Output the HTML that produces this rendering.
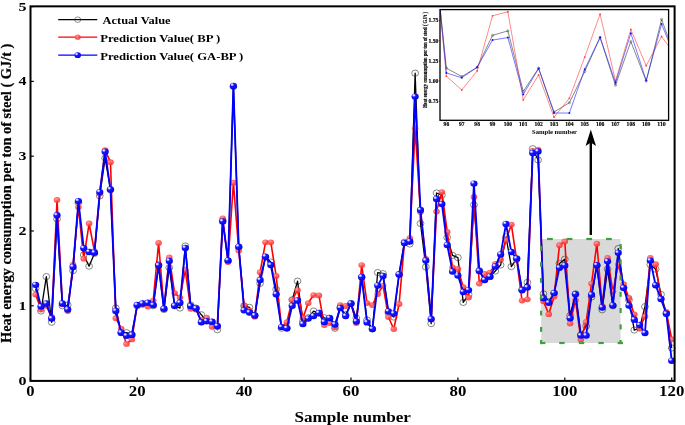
<!DOCTYPE html>
<html><head><meta charset="utf-8"><title>Heat energy consumption prediction</title>
<style>
html,body{margin:0;padding:0;background:#fff;}
svg{display:block;}
text{font-family:"Liberation Serif","DejaVu Serif",serif;font-weight:bold;fill:#000;}
</style></head><body>
<svg width="685" height="425" viewBox="0 0 685 425">
<defs>
<radialGradient id="gb" cx="0.36" cy="0.34" r="0.7" fx="0.30" fy="0.28">
<stop offset="0" stop-color="#ffffff"/><stop offset="0.16" stop-color="#c8c8ff"/><stop offset="0.38" stop-color="#1a1aff"/><stop offset="1" stop-color="#0000f0"/>
</radialGradient>
<radialGradient id="gr" cx="0.4" cy="0.38" r="0.62">
<stop offset="0" stop-color="#ffa0a0" stop-opacity="0.9"/><stop offset="0.55" stop-color="#ff4a4a" stop-opacity="0.85"/><stop offset="1" stop-color="#ff2a2a" stop-opacity="0.85"/>
</radialGradient>
<g id="mb"><ellipse rx="3.6" ry="3.2" fill="url(#gb)"/></g>
<g id="mr"><ellipse rx="3.3" ry="2.9" fill="url(#gr)"/></g>
<g id="mk"><ellipse rx="3.4" ry="3.1" fill="none" stroke="#222" stroke-width="0.55"/></g>
<clipPath id="ci"><rect x="440" y="9.6" width="228.6" height="110.7"/></clipPath>
</defs>
<rect width="685" height="425" fill="#fff"/>

<rect x="541.2" y="239" width="79.4" height="104" fill="#d9d9d9"/>
<polyline points="35.65,288.6 40.99,311.04 46.34,276.63 51.68,322.26 57.02,219.03 62.37,305.8 67.72,305.05 73.06,270.64 78.41,202.58 83.75,254.94 89.09,266.16 94.44,253.44 99.78,195.84 105.13,158.07 110.47,189.86 115.82,308.04 121.16,332.73 126.51,332.73 131.85,334.22 137.2,305.8 142.54,304.3 147.89,303.56 153.23,305.8 158.58,264.66 163.93,309.54 169.27,267.65 174.62,305.8 179.96,308.04 185.31,245.96 190.65,305.05 196,308.04 201.34,314.78 206.69,320.76 212.03,322.26 217.38,329.74 222.72,220.53 228.06,260.92 233.41,86.64 238.75,247.46 244.1,305.8 249.44,307.3 254.79,315.52 260.13,283.36 265.48,257.18 270.82,262.04 276.17,289.34 281.51,328.24 286.86,328.24 292.2,299.82 297.55,281.12 302.89,321.51 308.24,317.77 313.58,311.04 318.93,313.28 324.27,317.77 329.62,318.52 334.96,328.24 340.31,307.3 345.65,314.78 351,303.56 356.34,317.99 361.69,277.38 367.03,320.01 372.38,328.99 377.73,272.59 383.07,273.64 388.42,312.91 393.76,317.02 399.11,274.38 404.45,242.22 409.8,244.02 415.14,73.17 420.49,223.52 425.83,266.98 431.18,323.6 436.52,193 441.87,195.1 447.21,237.43 452.56,255.38 457.9,257.63 463.25,302.43 468.59,294.58 473.94,204.82 479.28,270.64 484.62,279.62 489.97,276.63 495.31,271.02 500.66,265.03 506,236.98 511.35,266.6 516.69,258.68 522.04,290.09 527.38,282.39 532.73,148.72 538.07,159.94 543.42,293.83 548.76,301.69 554.11,293.08 559.45,263.39 564.8,259.2 570.14,315.52 575.49,293.83 580.83,334.6 586.18,326 591.52,296.97 596.87,265.41 602.21,309.76 607.56,269.15 612.9,305.8 618.25,248.58 623.59,287.85 628.94,299.97 634.28,330.04 639.63,328.02 644.97,306.62 650.32,264.59 655.66,269.15 661.01,294.43 666.35,313.28 671.7,347.99" fill="none" stroke="#000" stroke-width="1.3" stroke-linejoin="round"/>
<use href="#mk" x="35.65" y="288.6"/>
<use href="#mk" x="40.99" y="311.04"/>
<use href="#mk" x="46.34" y="276.63"/>
<use href="#mk" x="51.68" y="322.26"/>
<use href="#mk" x="57.02" y="219.03"/>
<use href="#mk" x="62.37" y="305.8"/>
<use href="#mk" x="67.72" y="305.05"/>
<use href="#mk" x="73.06" y="270.64"/>
<use href="#mk" x="78.41" y="202.58"/>
<use href="#mk" x="83.75" y="254.94"/>
<use href="#mk" x="89.09" y="266.16"/>
<use href="#mk" x="94.44" y="253.44"/>
<use href="#mk" x="99.78" y="195.84"/>
<use href="#mk" x="105.13" y="158.07"/>
<use href="#mk" x="110.47" y="189.86"/>
<use href="#mk" x="115.82" y="308.04"/>
<use href="#mk" x="121.16" y="332.73"/>
<use href="#mk" x="126.51" y="332.73"/>
<use href="#mk" x="131.85" y="334.22"/>
<use href="#mk" x="137.2" y="305.8"/>
<use href="#mk" x="142.54" y="304.3"/>
<use href="#mk" x="147.89" y="303.56"/>
<use href="#mk" x="153.23" y="305.8"/>
<use href="#mk" x="158.58" y="264.66"/>
<use href="#mk" x="163.93" y="309.54"/>
<use href="#mk" x="169.27" y="267.65"/>
<use href="#mk" x="174.62" y="305.8"/>
<use href="#mk" x="179.96" y="308.04"/>
<use href="#mk" x="185.31" y="245.96"/>
<use href="#mk" x="190.65" y="305.05"/>
<use href="#mk" x="196" y="308.04"/>
<use href="#mk" x="201.34" y="314.78"/>
<use href="#mk" x="206.69" y="320.76"/>
<use href="#mk" x="212.03" y="322.26"/>
<use href="#mk" x="217.38" y="329.74"/>
<use href="#mk" x="222.72" y="220.53"/>
<use href="#mk" x="228.06" y="260.92"/>
<use href="#mk" x="233.41" y="86.64"/>
<use href="#mk" x="238.75" y="247.46"/>
<use href="#mk" x="244.1" y="305.8"/>
<use href="#mk" x="249.44" y="307.3"/>
<use href="#mk" x="254.79" y="315.52"/>
<use href="#mk" x="260.13" y="283.36"/>
<use href="#mk" x="265.48" y="257.18"/>
<use href="#mk" x="270.82" y="262.04"/>
<use href="#mk" x="276.17" y="289.34"/>
<use href="#mk" x="281.51" y="328.24"/>
<use href="#mk" x="286.86" y="328.24"/>
<use href="#mk" x="292.2" y="299.82"/>
<use href="#mk" x="297.55" y="281.12"/>
<use href="#mk" x="302.89" y="321.51"/>
<use href="#mk" x="308.24" y="317.77"/>
<use href="#mk" x="313.58" y="311.04"/>
<use href="#mk" x="318.93" y="313.28"/>
<use href="#mk" x="324.27" y="317.77"/>
<use href="#mk" x="329.62" y="318.52"/>
<use href="#mk" x="334.96" y="328.24"/>
<use href="#mk" x="340.31" y="307.3"/>
<use href="#mk" x="345.65" y="314.78"/>
<use href="#mk" x="351" y="303.56"/>
<use href="#mk" x="356.34" y="317.99"/>
<use href="#mk" x="361.69" y="277.38"/>
<use href="#mk" x="367.03" y="320.01"/>
<use href="#mk" x="372.38" y="328.99"/>
<use href="#mk" x="377.73" y="272.59"/>
<use href="#mk" x="383.07" y="273.64"/>
<use href="#mk" x="388.42" y="312.91"/>
<use href="#mk" x="393.76" y="317.02"/>
<use href="#mk" x="399.11" y="274.38"/>
<use href="#mk" x="404.45" y="242.22"/>
<use href="#mk" x="409.8" y="244.02"/>
<use href="#mk" x="415.14" y="73.17"/>
<use href="#mk" x="420.49" y="223.52"/>
<use href="#mk" x="425.83" y="266.98"/>
<use href="#mk" x="431.18" y="323.6"/>
<use href="#mk" x="436.52" y="193"/>
<use href="#mk" x="441.87" y="195.1"/>
<use href="#mk" x="447.21" y="237.43"/>
<use href="#mk" x="452.56" y="255.38"/>
<use href="#mk" x="457.9" y="257.63"/>
<use href="#mk" x="463.25" y="302.43"/>
<use href="#mk" x="468.59" y="294.58"/>
<use href="#mk" x="473.94" y="204.82"/>
<use href="#mk" x="479.28" y="270.64"/>
<use href="#mk" x="484.62" y="279.62"/>
<use href="#mk" x="489.97" y="276.63"/>
<use href="#mk" x="495.31" y="271.02"/>
<use href="#mk" x="500.66" y="265.03"/>
<use href="#mk" x="506" y="236.98"/>
<use href="#mk" x="511.35" y="266.6"/>
<use href="#mk" x="516.69" y="258.68"/>
<use href="#mk" x="522.04" y="290.09"/>
<use href="#mk" x="527.38" y="282.39"/>
<use href="#mk" x="532.73" y="148.72"/>
<use href="#mk" x="538.07" y="159.94"/>
<use href="#mk" x="543.42" y="293.83"/>
<use href="#mk" x="548.76" y="301.69"/>
<use href="#mk" x="554.11" y="293.08"/>
<use href="#mk" x="559.45" y="263.39"/>
<use href="#mk" x="564.8" y="259.2"/>
<use href="#mk" x="570.14" y="315.52"/>
<use href="#mk" x="575.49" y="293.83"/>
<use href="#mk" x="580.83" y="334.6"/>
<use href="#mk" x="586.18" y="326"/>
<use href="#mk" x="591.52" y="296.97"/>
<use href="#mk" x="596.87" y="265.41"/>
<use href="#mk" x="602.21" y="309.76"/>
<use href="#mk" x="607.56" y="269.15"/>
<use href="#mk" x="612.9" y="305.8"/>
<use href="#mk" x="618.25" y="248.58"/>
<use href="#mk" x="623.59" y="287.85"/>
<use href="#mk" x="628.94" y="299.97"/>
<use href="#mk" x="634.28" y="330.04"/>
<use href="#mk" x="639.63" y="328.02"/>
<use href="#mk" x="644.97" y="306.62"/>
<use href="#mk" x="650.32" y="264.59"/>
<use href="#mk" x="655.66" y="269.15"/>
<use href="#mk" x="661.01" y="294.43"/>
<use href="#mk" x="666.35" y="313.28"/>
<use href="#mk" x="671.7" y="347.99"/>
<polyline points="35.65,294.58 40.99,309.54 46.34,305.8 51.68,317.02 57.02,199.96 62.37,304.3 67.72,311.04 73.06,264.66 78.41,207.06 83.75,258.68 89.09,223.52 94.44,251.2 99.78,193.6 105.13,150.22 110.47,162.18 115.82,318.22 121.16,328.61 126.51,343.95 131.85,339.46 137.2,305.05 142.54,304.3 147.89,306.55 153.23,300.56 158.58,242.97 163.93,308.04 169.27,257.4 174.62,293.08 179.96,297.57 185.31,269.9 190.65,308.79 196,309.54 201.34,320.76 206.69,317.77 212.03,326.74 217.38,327.12 222.72,218.28 228.06,262.04 233.41,182.75 238.75,250.6 244.1,305.8 249.44,310.66 254.79,316.65 260.13,272.14 265.48,242.37 270.82,242.37 276.17,275.88 281.51,326.74 286.86,322.26 292.2,299.82 297.55,290.09 302.89,317.99 308.24,303.03 313.58,295.03 318.93,295.4 324.27,325.02 329.62,323 334.96,327.42 340.31,305.05 345.65,306.02 351,303.56 356.34,323 361.69,265.03 367.03,303.03 372.38,305.05 377.73,293.98 383.07,285.6 388.42,317.02 393.76,328.99 399.11,304 404.45,242.97 409.8,238.03 415.14,128.37 420.49,212 425.83,258.98 431.18,319.26 436.52,211.4 441.87,192.1 447.21,231.97 452.56,267.43 457.9,269 463.25,287.1 468.59,297.57 473.94,196.97 479.28,283.58 484.62,274.01 489.97,272.59 495.31,263.99 500.66,259.42 506,239.98 511.35,224.57 516.69,260.02 522.04,300.56 527.38,299.37 532.73,150.96 538.07,149.62 543.42,301.31 548.76,314.18 554.11,296.45 559.45,245.21 564.8,241.47 570.14,323.38 575.49,300.19 580.83,339.46 586.18,321.88 591.52,283.58 596.87,243.72 602.21,305.8 607.56,257.93 612.9,291.59 618.25,264.44 623.59,284.11 628.94,298.02 634.28,314.4 639.63,328.02 644.97,316.42 650.32,258 655.66,264.21 661.01,299.07 666.35,312.01 671.7,339.24" fill="none" stroke="#ff0000" stroke-width="1.6" stroke-linejoin="round"/>
<use href="#mr" x="35.65" y="294.58"/>
<use href="#mr" x="40.99" y="309.54"/>
<use href="#mr" x="46.34" y="305.8"/>
<use href="#mr" x="51.68" y="317.02"/>
<use href="#mr" x="57.02" y="199.96"/>
<use href="#mr" x="62.37" y="304.3"/>
<use href="#mr" x="67.72" y="311.04"/>
<use href="#mr" x="73.06" y="264.66"/>
<use href="#mr" x="78.41" y="207.06"/>
<use href="#mr" x="83.75" y="258.68"/>
<use href="#mr" x="89.09" y="223.52"/>
<use href="#mr" x="94.44" y="251.2"/>
<use href="#mr" x="99.78" y="193.6"/>
<use href="#mr" x="105.13" y="150.22"/>
<use href="#mr" x="110.47" y="162.18"/>
<use href="#mr" x="115.82" y="318.22"/>
<use href="#mr" x="121.16" y="328.61"/>
<use href="#mr" x="126.51" y="343.95"/>
<use href="#mr" x="131.85" y="339.46"/>
<use href="#mr" x="137.2" y="305.05"/>
<use href="#mr" x="142.54" y="304.3"/>
<use href="#mr" x="147.89" y="306.55"/>
<use href="#mr" x="153.23" y="300.56"/>
<use href="#mr" x="158.58" y="242.97"/>
<use href="#mr" x="163.93" y="308.04"/>
<use href="#mr" x="169.27" y="257.4"/>
<use href="#mr" x="174.62" y="293.08"/>
<use href="#mr" x="179.96" y="297.57"/>
<use href="#mr" x="185.31" y="269.9"/>
<use href="#mr" x="190.65" y="308.79"/>
<use href="#mr" x="196" y="309.54"/>
<use href="#mr" x="201.34" y="320.76"/>
<use href="#mr" x="206.69" y="317.77"/>
<use href="#mr" x="212.03" y="326.74"/>
<use href="#mr" x="217.38" y="327.12"/>
<use href="#mr" x="222.72" y="218.28"/>
<use href="#mr" x="228.06" y="262.04"/>
<use href="#mr" x="233.41" y="182.75"/>
<use href="#mr" x="238.75" y="250.6"/>
<use href="#mr" x="244.1" y="305.8"/>
<use href="#mr" x="249.44" y="310.66"/>
<use href="#mr" x="254.79" y="316.65"/>
<use href="#mr" x="260.13" y="272.14"/>
<use href="#mr" x="265.48" y="242.37"/>
<use href="#mr" x="270.82" y="242.37"/>
<use href="#mr" x="276.17" y="275.88"/>
<use href="#mr" x="281.51" y="326.74"/>
<use href="#mr" x="286.86" y="322.26"/>
<use href="#mr" x="292.2" y="299.82"/>
<use href="#mr" x="297.55" y="290.09"/>
<use href="#mr" x="302.89" y="317.99"/>
<use href="#mr" x="308.24" y="303.03"/>
<use href="#mr" x="313.58" y="295.03"/>
<use href="#mr" x="318.93" y="295.4"/>
<use href="#mr" x="324.27" y="325.02"/>
<use href="#mr" x="329.62" y="323"/>
<use href="#mr" x="334.96" y="327.42"/>
<use href="#mr" x="340.31" y="305.05"/>
<use href="#mr" x="345.65" y="306.02"/>
<use href="#mr" x="351" y="303.56"/>
<use href="#mr" x="356.34" y="323"/>
<use href="#mr" x="361.69" y="265.03"/>
<use href="#mr" x="367.03" y="303.03"/>
<use href="#mr" x="372.38" y="305.05"/>
<use href="#mr" x="377.73" y="293.98"/>
<use href="#mr" x="383.07" y="285.6"/>
<use href="#mr" x="388.42" y="317.02"/>
<use href="#mr" x="393.76" y="328.99"/>
<use href="#mr" x="399.11" y="304"/>
<use href="#mr" x="404.45" y="242.97"/>
<use href="#mr" x="409.8" y="238.03"/>
<use href="#mr" x="415.14" y="128.37"/>
<use href="#mr" x="420.49" y="212"/>
<use href="#mr" x="425.83" y="258.98"/>
<use href="#mr" x="431.18" y="319.26"/>
<use href="#mr" x="436.52" y="211.4"/>
<use href="#mr" x="441.87" y="192.1"/>
<use href="#mr" x="447.21" y="231.97"/>
<use href="#mr" x="452.56" y="267.43"/>
<use href="#mr" x="457.9" y="269"/>
<use href="#mr" x="463.25" y="287.1"/>
<use href="#mr" x="468.59" y="297.57"/>
<use href="#mr" x="473.94" y="196.97"/>
<use href="#mr" x="479.28" y="283.58"/>
<use href="#mr" x="484.62" y="274.01"/>
<use href="#mr" x="489.97" y="272.59"/>
<use href="#mr" x="495.31" y="263.99"/>
<use href="#mr" x="500.66" y="259.42"/>
<use href="#mr" x="506" y="239.98"/>
<use href="#mr" x="511.35" y="224.57"/>
<use href="#mr" x="516.69" y="260.02"/>
<use href="#mr" x="522.04" y="300.56"/>
<use href="#mr" x="527.38" y="299.37"/>
<use href="#mr" x="532.73" y="150.96"/>
<use href="#mr" x="538.07" y="149.62"/>
<use href="#mr" x="543.42" y="301.31"/>
<use href="#mr" x="548.76" y="314.18"/>
<use href="#mr" x="554.11" y="296.45"/>
<use href="#mr" x="559.45" y="245.21"/>
<use href="#mr" x="564.8" y="241.47"/>
<use href="#mr" x="570.14" y="323.38"/>
<use href="#mr" x="575.49" y="300.19"/>
<use href="#mr" x="580.83" y="339.46"/>
<use href="#mr" x="586.18" y="321.88"/>
<use href="#mr" x="591.52" y="283.58"/>
<use href="#mr" x="596.87" y="243.72"/>
<use href="#mr" x="602.21" y="305.8"/>
<use href="#mr" x="607.56" y="257.93"/>
<use href="#mr" x="612.9" y="291.59"/>
<use href="#mr" x="618.25" y="264.44"/>
<use href="#mr" x="623.59" y="284.11"/>
<use href="#mr" x="628.94" y="298.02"/>
<use href="#mr" x="634.28" y="314.4"/>
<use href="#mr" x="639.63" y="328.02"/>
<use href="#mr" x="644.97" y="316.42"/>
<use href="#mr" x="650.32" y="258"/>
<use href="#mr" x="655.66" y="264.21"/>
<use href="#mr" x="661.01" y="299.07"/>
<use href="#mr" x="666.35" y="312.01"/>
<use href="#mr" x="671.7" y="339.24"/>
<polyline points="35.65,284.86 40.99,306.55 46.34,303.56 51.68,318.52 57.02,215.29 62.37,303.56 67.72,309.54 73.06,266.9 78.41,201.08 83.75,248.2 89.09,251.94 94.44,252.69 99.78,192.1 105.13,151.71 110.47,189.49 115.82,310.96 121.16,332.73 126.51,335.72 131.85,334.97 137.2,305.05 142.54,303.56 147.89,302.81 153.23,305.05 158.58,265.41 163.93,308.79 169.27,260.92 174.62,305.8 179.96,302.81 185.31,247.98 190.65,306.17 196,308.42 201.34,322.26 206.69,321.13 212.03,321.73 217.38,326 222.72,221.43 228.06,260.4 233.41,85.89 238.75,246.71 244.1,310.29 249.44,312.53 254.79,315.52 260.13,279.99 265.48,256.58 270.82,265.03 276.17,294.21 281.51,327.12 286.86,328.24 292.2,305.8 297.55,300.56 302.89,323.98 308.24,318.59 313.58,315.97 318.93,312.98 324.27,322.03 329.62,317.99 334.96,324.43 340.31,308.04 345.65,315.97 351,303.41 356.34,321.43 361.69,277 367.03,322.41 372.38,328.99 377.73,285.6 383.07,275.88 388.42,311.41 393.76,313.58 399.11,274.38 404.45,242.97 409.8,241.4 415.14,96.58 420.49,210.06 425.83,260.62 431.18,319.04 436.52,198.99 441.87,204 447.21,244.99 452.56,271.62 457.9,275.58 463.25,292.04 468.59,290.09 473.94,183.58 479.28,271.02 484.62,279.99 489.97,276.63 495.31,266.38 500.66,254.41 506,223.97 511.35,252.02 516.69,258.6 522.04,290.09 527.38,287.4 532.73,152.98 538.07,151.41 543.42,298.32 548.76,302.81 554.11,293.08 559.45,267.8 564.8,265.41 570.14,318.29 575.49,294.21 580.83,335.57 586.18,335.57 591.52,294.8 596.87,265.18 602.21,307.45 607.56,261.37 612.9,305.43 618.25,252.92 623.59,287.85 628.94,305.58 634.28,319.64 639.63,325.02 644.97,333.03 650.32,260.62 655.66,285.3 661.01,299.07 666.35,313.8 671.7,360.7" fill="none" stroke="#0000ff" stroke-width="1.8" stroke-linejoin="round"/>
<use href="#mb" x="35.65" y="284.86"/>
<use href="#mb" x="40.99" y="306.55"/>
<use href="#mb" x="46.34" y="303.56"/>
<use href="#mb" x="51.68" y="318.52"/>
<use href="#mb" x="57.02" y="215.29"/>
<use href="#mb" x="62.37" y="303.56"/>
<use href="#mb" x="67.72" y="309.54"/>
<use href="#mb" x="73.06" y="266.9"/>
<use href="#mb" x="78.41" y="201.08"/>
<use href="#mb" x="83.75" y="248.2"/>
<use href="#mb" x="89.09" y="251.94"/>
<use href="#mb" x="94.44" y="252.69"/>
<use href="#mb" x="99.78" y="192.1"/>
<use href="#mb" x="105.13" y="151.71"/>
<use href="#mb" x="110.47" y="189.49"/>
<use href="#mb" x="115.82" y="310.96"/>
<use href="#mb" x="121.16" y="332.73"/>
<use href="#mb" x="126.51" y="335.72"/>
<use href="#mb" x="131.85" y="334.97"/>
<use href="#mb" x="137.2" y="305.05"/>
<use href="#mb" x="142.54" y="303.56"/>
<use href="#mb" x="147.89" y="302.81"/>
<use href="#mb" x="153.23" y="305.05"/>
<use href="#mb" x="158.58" y="265.41"/>
<use href="#mb" x="163.93" y="308.79"/>
<use href="#mb" x="169.27" y="260.92"/>
<use href="#mb" x="174.62" y="305.8"/>
<use href="#mb" x="179.96" y="302.81"/>
<use href="#mb" x="185.31" y="247.98"/>
<use href="#mb" x="190.65" y="306.17"/>
<use href="#mb" x="196" y="308.42"/>
<use href="#mb" x="201.34" y="322.26"/>
<use href="#mb" x="206.69" y="321.13"/>
<use href="#mb" x="212.03" y="321.73"/>
<use href="#mb" x="217.38" y="326"/>
<use href="#mb" x="222.72" y="221.43"/>
<use href="#mb" x="228.06" y="260.4"/>
<use href="#mb" x="233.41" y="85.89"/>
<use href="#mb" x="238.75" y="246.71"/>
<use href="#mb" x="244.1" y="310.29"/>
<use href="#mb" x="249.44" y="312.53"/>
<use href="#mb" x="254.79" y="315.52"/>
<use href="#mb" x="260.13" y="279.99"/>
<use href="#mb" x="265.48" y="256.58"/>
<use href="#mb" x="270.82" y="265.03"/>
<use href="#mb" x="276.17" y="294.21"/>
<use href="#mb" x="281.51" y="327.12"/>
<use href="#mb" x="286.86" y="328.24"/>
<use href="#mb" x="292.2" y="305.8"/>
<use href="#mb" x="297.55" y="300.56"/>
<use href="#mb" x="302.89" y="323.98"/>
<use href="#mb" x="308.24" y="318.59"/>
<use href="#mb" x="313.58" y="315.97"/>
<use href="#mb" x="318.93" y="312.98"/>
<use href="#mb" x="324.27" y="322.03"/>
<use href="#mb" x="329.62" y="317.99"/>
<use href="#mb" x="334.96" y="324.43"/>
<use href="#mb" x="340.31" y="308.04"/>
<use href="#mb" x="345.65" y="315.97"/>
<use href="#mb" x="351" y="303.41"/>
<use href="#mb" x="356.34" y="321.43"/>
<use href="#mb" x="361.69" y="277"/>
<use href="#mb" x="367.03" y="322.41"/>
<use href="#mb" x="372.38" y="328.99"/>
<use href="#mb" x="377.73" y="285.6"/>
<use href="#mb" x="383.07" y="275.88"/>
<use href="#mb" x="388.42" y="311.41"/>
<use href="#mb" x="393.76" y="313.58"/>
<use href="#mb" x="399.11" y="274.38"/>
<use href="#mb" x="404.45" y="242.97"/>
<use href="#mb" x="409.8" y="241.4"/>
<use href="#mb" x="415.14" y="96.58"/>
<use href="#mb" x="420.49" y="210.06"/>
<use href="#mb" x="425.83" y="260.62"/>
<use href="#mb" x="431.18" y="319.04"/>
<use href="#mb" x="436.52" y="198.99"/>
<use href="#mb" x="441.87" y="204"/>
<use href="#mb" x="447.21" y="244.99"/>
<use href="#mb" x="452.56" y="271.62"/>
<use href="#mb" x="457.9" y="275.58"/>
<use href="#mb" x="463.25" y="292.04"/>
<use href="#mb" x="468.59" y="290.09"/>
<use href="#mb" x="473.94" y="183.58"/>
<use href="#mb" x="479.28" y="271.02"/>
<use href="#mb" x="484.62" y="279.99"/>
<use href="#mb" x="489.97" y="276.63"/>
<use href="#mb" x="495.31" y="266.38"/>
<use href="#mb" x="500.66" y="254.41"/>
<use href="#mb" x="506" y="223.97"/>
<use href="#mb" x="511.35" y="252.02"/>
<use href="#mb" x="516.69" y="258.6"/>
<use href="#mb" x="522.04" y="290.09"/>
<use href="#mb" x="527.38" y="287.4"/>
<use href="#mb" x="532.73" y="152.98"/>
<use href="#mb" x="538.07" y="151.41"/>
<use href="#mb" x="543.42" y="298.32"/>
<use href="#mb" x="548.76" y="302.81"/>
<use href="#mb" x="554.11" y="293.08"/>
<use href="#mb" x="559.45" y="267.8"/>
<use href="#mb" x="564.8" y="265.41"/>
<use href="#mb" x="570.14" y="318.29"/>
<use href="#mb" x="575.49" y="294.21"/>
<use href="#mb" x="580.83" y="335.57"/>
<use href="#mb" x="586.18" y="335.57"/>
<use href="#mb" x="591.52" y="294.8"/>
<use href="#mb" x="596.87" y="265.18"/>
<use href="#mb" x="602.21" y="307.45"/>
<use href="#mb" x="607.56" y="261.37"/>
<use href="#mb" x="612.9" y="305.43"/>
<use href="#mb" x="618.25" y="252.92"/>
<use href="#mb" x="623.59" y="287.85"/>
<use href="#mb" x="628.94" y="305.58"/>
<use href="#mb" x="634.28" y="319.64"/>
<use href="#mb" x="639.63" y="325.02"/>
<use href="#mb" x="644.97" y="333.03"/>
<use href="#mb" x="650.32" y="260.62"/>
<use href="#mb" x="655.66" y="285.3"/>
<use href="#mb" x="661.01" y="299.07"/>
<use href="#mb" x="666.35" y="313.8"/>
<use href="#mb" x="671.7" y="360.7"/>
<rect x="547" y="237.9" width="5.8" height="2.2" fill="#40a040"/>
<rect x="566.6" y="237.9" width="5.8" height="2.2" fill="#40a040"/>
<rect x="586.3" y="237.9" width="5.8" height="2.2" fill="#40a040"/>
<rect x="606" y="237.9" width="5.8" height="2.2" fill="#40a040"/>
<rect x="540" y="341.9" width="5.4" height="2.2" fill="#40a040"/>
<rect x="559.2" y="341.9" width="5.4" height="2.2" fill="#40a040"/>
<rect x="578.8" y="341.9" width="5.4" height="2.2" fill="#40a040"/>
<rect x="598.4" y="341.9" width="5.4" height="2.2" fill="#40a040"/>
<rect x="617.6" y="341.9" width="5.4" height="2.2" fill="#40a040"/>
<rect x="540" y="246" width="2.2" height="4.8" fill="#40a040"/>
<rect x="540" y="262" width="2.2" height="4.8" fill="#40a040"/>
<rect x="540" y="278" width="2.2" height="4.8" fill="#40a040"/>
<rect x="540" y="294.5" width="2.2" height="4.8" fill="#40a040"/>
<rect x="540" y="310.7" width="2.2" height="4.8" fill="#40a040"/>
<rect x="540" y="327" width="2.2" height="4.8" fill="#40a040"/>
<rect x="619.5" y="244" width="2.2" height="5" fill="#40a040"/>
<rect x="619.5" y="259.5" width="2.2" height="5" fill="#40a040"/>
<rect x="619.5" y="275.5" width="2.2" height="5" fill="#40a040"/>
<rect x="619.5" y="291.8" width="2.2" height="5" fill="#40a040"/>
<rect x="619.5" y="308" width="2.2" height="5" fill="#40a040"/>
<rect x="619.5" y="324.4" width="2.2" height="5" fill="#40a040"/>
<rect x="619.5" y="340" width="2.2" height="4.1" fill="#40a040"/>
<rect x="540" y="340" width="2.2" height="4.1" fill="#40a040"/>
<line x1="590.8" y1="235" x2="590.8" y2="142" stroke="#000" stroke-width="2.4"/>
<path d="M590.8 129.5 L596 146 L590.8 142.5 L585.6 146 Z" fill="#000"/>
<rect x="30.5" y="6.35" width="644.1" height="374.55" fill="none" stroke="#000" stroke-width="2"/>
<line x1="30.3" y1="380" x2="30.3" y2="377.6" stroke="#000" stroke-width="1.2"/>
<line x1="137.2" y1="380" x2="137.2" y2="377.6" stroke="#000" stroke-width="1.2"/>
<line x1="244.1" y1="380" x2="244.1" y2="377.6" stroke="#000" stroke-width="1.2"/>
<line x1="351" y1="380" x2="351" y2="377.6" stroke="#000" stroke-width="1.2"/>
<line x1="457.9" y1="380" x2="457.9" y2="377.6" stroke="#000" stroke-width="1.2"/>
<line x1="564.8" y1="380" x2="564.8" y2="377.6" stroke="#000" stroke-width="1.2"/>
<line x1="671.7" y1="380" x2="671.7" y2="377.6" stroke="#000" stroke-width="1.2"/>
<line x1="31" y1="380.6" x2="33.8" y2="380.6" stroke="#000" stroke-width="1.2"/>
<line x1="31" y1="305.8" x2="33.8" y2="305.8" stroke="#000" stroke-width="1.2"/>
<line x1="31" y1="231" x2="33.8" y2="231" stroke="#000" stroke-width="1.2"/>
<line x1="31" y1="156.2" x2="33.8" y2="156.2" stroke="#000" stroke-width="1.2"/>
<line x1="31" y1="81.4" x2="33.8" y2="81.4" stroke="#000" stroke-width="1.2"/>
<line x1="31" y1="6.6" x2="33.8" y2="6.6" stroke="#000" stroke-width="1.2"/>
<text x="30.3" y="395.6" font-size="14.2" text-anchor="middle" textLength="8.3" lengthAdjust="spacingAndGlyphs">0</text>
<text x="137.2" y="395.6" font-size="14.2" text-anchor="middle" textLength="16.8" lengthAdjust="spacingAndGlyphs">20</text>
<text x="244.1" y="395.6" font-size="14.2" text-anchor="middle" textLength="16.8" lengthAdjust="spacingAndGlyphs">40</text>
<text x="351" y="395.6" font-size="14.2" text-anchor="middle" textLength="16.8" lengthAdjust="spacingAndGlyphs">60</text>
<text x="457.9" y="395.6" font-size="14.2" text-anchor="middle" textLength="16.8" lengthAdjust="spacingAndGlyphs">80</text>
<text x="564.8" y="395.6" font-size="14.2" text-anchor="middle" textLength="25.2" lengthAdjust="spacingAndGlyphs">100</text>
<text x="671.7" y="395.6" font-size="14.2" text-anchor="middle" textLength="25.2" lengthAdjust="spacingAndGlyphs">120</text>
<text x="26.4" y="384.5" font-size="13.2" text-anchor="end" textLength="8" lengthAdjust="spacingAndGlyphs">0</text>
<text x="26.4" y="309.7" font-size="13.2" text-anchor="end" textLength="8" lengthAdjust="spacingAndGlyphs">1</text>
<text x="26.4" y="234.9" font-size="13.2" text-anchor="end" textLength="8" lengthAdjust="spacingAndGlyphs">2</text>
<text x="26.4" y="160.1" font-size="13.2" text-anchor="end" textLength="8" lengthAdjust="spacingAndGlyphs">3</text>
<text x="26.4" y="85.3" font-size="13.2" text-anchor="end" textLength="8" lengthAdjust="spacingAndGlyphs">4</text>
<text x="26.4" y="10.5" font-size="13.2" text-anchor="end" textLength="8" lengthAdjust="spacingAndGlyphs">5</text>
<text x="352.7" y="421.8" font-size="14" text-anchor="middle" textLength="116.4" lengthAdjust="spacingAndGlyphs">Sample number</text>
<text transform="translate(10.6 193.3) rotate(-90)" font-size="14" stroke="#000" stroke-width="0.2" text-anchor="middle" textLength="299.4" lengthAdjust="spacingAndGlyphs">Heat energy consumption per ton of steel ( GJ/t )</text>
<line x1="58.2" y1="19.7" x2="97.3" y2="19.7" stroke="#000" stroke-width="1.25"/>
<use href="#mk" transform="translate(77.7 19.7) scale(0.9)"/>
<line x1="58.2" y1="37.2" x2="97.3" y2="37.2" stroke="#ff0000" stroke-width="1.25"/>
<use href="#mr" transform="translate(77.7 37.2) scale(0.9)"/>
<line x1="58.2" y1="55.2" x2="97.3" y2="55.2" stroke="#0000ff" stroke-width="1.25"/>
<use href="#mb" transform="translate(77.7 55.2) scale(0.9)"/>
<text x="102.6" y="24.2" font-size="11" text-anchor="start" textLength="68" lengthAdjust="spacingAndGlyphs">Actual Value</text>
<text x="100.2" y="41.6" font-size="11" text-anchor="start" textLength="120" lengthAdjust="spacingAndGlyphs">Prediction Value( BP )</text>
<text x="100.2" y="59.7" font-size="11" text-anchor="start" textLength="143.1" lengthAdjust="spacingAndGlyphs">Prediction Value( GA-BP )</text>
<rect x="440" y="9.6" width="228.6" height="110.7" fill="#fff" stroke="none"/>
<g clip-path="url(#ci)">
<polyline points="431.03,-75.98 446.4,68.12 461.77,76.57 477.14,67.31 492.51,35.36 507.88,30.85 523.25,91.47 538.62,68.12 553.99,111.99 569.36,102.73 584.73,71.5 600.1,37.53 615.47,85.27 630.84,41.55 646.21,81 661.58,19.42 676.95,61.68" fill="none" stroke="#222" stroke-width="0.55"/>
<circle cx="446.4" cy="68.12" r="1.1" fill="none" stroke="#222" stroke-width="0.4"/>
<circle cx="461.77" cy="76.57" r="1.1" fill="none" stroke="#222" stroke-width="0.4"/>
<circle cx="477.14" cy="67.31" r="1.1" fill="none" stroke="#222" stroke-width="0.4"/>
<circle cx="492.51" cy="35.36" r="1.1" fill="none" stroke="#222" stroke-width="0.4"/>
<circle cx="507.88" cy="30.85" r="1.1" fill="none" stroke="#222" stroke-width="0.4"/>
<circle cx="523.25" cy="91.47" r="1.1" fill="none" stroke="#222" stroke-width="0.4"/>
<circle cx="538.62" cy="68.12" r="1.1" fill="none" stroke="#222" stroke-width="0.4"/>
<circle cx="553.99" cy="111.99" r="1.1" fill="none" stroke="#222" stroke-width="0.4"/>
<circle cx="569.36" cy="102.73" r="1.1" fill="none" stroke="#222" stroke-width="0.4"/>
<circle cx="584.73" cy="71.5" r="1.1" fill="none" stroke="#222" stroke-width="0.4"/>
<circle cx="600.1" cy="37.53" r="1.1" fill="none" stroke="#222" stroke-width="0.4"/>
<circle cx="615.47" cy="85.27" r="1.1" fill="none" stroke="#222" stroke-width="0.4"/>
<circle cx="630.84" cy="41.55" r="1.1" fill="none" stroke="#222" stroke-width="0.4"/>
<circle cx="646.21" cy="81" r="1.1" fill="none" stroke="#222" stroke-width="0.4"/>
<circle cx="661.58" cy="19.42" r="1.1" fill="none" stroke="#222" stroke-width="0.4"/>
<polyline points="431.03,-87.08 446.4,76.17 461.77,90.02 477.14,70.94 492.51,15.8 507.88,11.77 523.25,99.92 538.62,74.96 553.99,117.22 569.36,98.31 584.73,57.09 600.1,14.18 615.47,81 630.84,29.48 646.21,65.7 661.58,36.48 676.95,57.66" fill="none" stroke="#ff3a3a" stroke-width="0.6"/>
<circle cx="446.4" cy="76.17" r="0.9" fill="#ff4040"/>
<circle cx="461.77" cy="90.02" r="0.9" fill="#ff4040"/>
<circle cx="477.14" cy="70.94" r="0.9" fill="#ff4040"/>
<circle cx="492.51" cy="15.8" r="0.9" fill="#ff4040"/>
<circle cx="507.88" cy="11.77" r="0.9" fill="#ff4040"/>
<circle cx="523.25" cy="99.92" r="0.9" fill="#ff4040"/>
<circle cx="538.62" cy="74.96" r="0.9" fill="#ff4040"/>
<circle cx="553.99" cy="117.22" r="0.9" fill="#ff4040"/>
<circle cx="569.36" cy="98.31" r="0.9" fill="#ff4040"/>
<circle cx="584.73" cy="57.09" r="0.9" fill="#ff4040"/>
<circle cx="600.1" cy="14.18" r="0.9" fill="#ff4040"/>
<circle cx="615.47" cy="81" r="0.9" fill="#ff4040"/>
<circle cx="630.84" cy="29.48" r="0.9" fill="#ff4040"/>
<circle cx="646.21" cy="65.7" r="0.9" fill="#ff4040"/>
<circle cx="661.58" cy="36.48" r="0.9" fill="#ff4040"/>
<polyline points="431.03,-85.15 446.4,72.95 461.77,77.78 477.14,67.31 492.51,40.11 507.88,37.53 523.25,94.44 538.62,68.52 553.99,113.04 569.36,113.04 584.73,69.17 600.1,37.29 615.47,82.77 630.84,33.18 646.21,80.6 661.58,24.09 676.95,61.68" fill="none" stroke="#2020ff" stroke-width="0.6"/>
<circle cx="446.4" cy="72.95" r="1" fill="#1010ff"/>
<circle cx="461.77" cy="77.78" r="1" fill="#1010ff"/>
<circle cx="477.14" cy="67.31" r="1" fill="#1010ff"/>
<circle cx="492.51" cy="40.11" r="1" fill="#1010ff"/>
<circle cx="507.88" cy="37.53" r="1" fill="#1010ff"/>
<circle cx="523.25" cy="94.44" r="1" fill="#1010ff"/>
<circle cx="538.62" cy="68.52" r="1" fill="#1010ff"/>
<circle cx="553.99" cy="113.04" r="1" fill="#1010ff"/>
<circle cx="569.36" cy="113.04" r="1" fill="#1010ff"/>
<circle cx="584.73" cy="69.17" r="1" fill="#1010ff"/>
<circle cx="600.1" cy="37.29" r="1" fill="#1010ff"/>
<circle cx="615.47" cy="82.77" r="1" fill="#1010ff"/>
<circle cx="630.84" cy="33.18" r="1" fill="#1010ff"/>
<circle cx="646.21" cy="80.6" r="1" fill="#1010ff"/>
<circle cx="661.58" cy="24.09" r="1" fill="#1010ff"/>
</g>
<rect x="440" y="9.6" width="228.6" height="110.7" fill="none" stroke="#000" stroke-width="1.3"/>
<line x1="446.4" y1="120.3" x2="446.4" y2="121.6" stroke="#000" stroke-width="0.5"/>
<text x="446.4" y="125.5" font-size="5.5" text-anchor="middle" textLength="5.6" lengthAdjust="spacingAndGlyphs" stroke="#000" stroke-width="0.15">96</text>
<line x1="461.77" y1="120.3" x2="461.77" y2="121.6" stroke="#000" stroke-width="0.5"/>
<text x="461.77" y="125.5" font-size="5.5" text-anchor="middle" textLength="5.6" lengthAdjust="spacingAndGlyphs" stroke="#000" stroke-width="0.15">97</text>
<line x1="477.14" y1="120.3" x2="477.14" y2="121.6" stroke="#000" stroke-width="0.5"/>
<text x="477.14" y="125.5" font-size="5.5" text-anchor="middle" textLength="5.6" lengthAdjust="spacingAndGlyphs" stroke="#000" stroke-width="0.15">98</text>
<line x1="492.51" y1="120.3" x2="492.51" y2="121.6" stroke="#000" stroke-width="0.5"/>
<text x="492.51" y="125.5" font-size="5.5" text-anchor="middle" textLength="5.6" lengthAdjust="spacingAndGlyphs" stroke="#000" stroke-width="0.15">99</text>
<line x1="507.88" y1="120.3" x2="507.88" y2="121.6" stroke="#000" stroke-width="0.5"/>
<text x="507.88" y="125.5" font-size="5.5" text-anchor="middle" textLength="8.4" lengthAdjust="spacingAndGlyphs" stroke="#000" stroke-width="0.15">100</text>
<line x1="523.25" y1="120.3" x2="523.25" y2="121.6" stroke="#000" stroke-width="0.5"/>
<text x="523.25" y="125.5" font-size="5.5" text-anchor="middle" textLength="8.4" lengthAdjust="spacingAndGlyphs" stroke="#000" stroke-width="0.15">101</text>
<line x1="538.62" y1="120.3" x2="538.62" y2="121.6" stroke="#000" stroke-width="0.5"/>
<text x="538.62" y="125.5" font-size="5.5" text-anchor="middle" textLength="8.4" lengthAdjust="spacingAndGlyphs" stroke="#000" stroke-width="0.15">102</text>
<line x1="553.99" y1="120.3" x2="553.99" y2="121.6" stroke="#000" stroke-width="0.5"/>
<text x="553.99" y="125.5" font-size="5.5" text-anchor="middle" textLength="8.4" lengthAdjust="spacingAndGlyphs" stroke="#000" stroke-width="0.15">103</text>
<line x1="569.36" y1="120.3" x2="569.36" y2="121.6" stroke="#000" stroke-width="0.5"/>
<text x="569.36" y="125.5" font-size="5.5" text-anchor="middle" textLength="8.4" lengthAdjust="spacingAndGlyphs" stroke="#000" stroke-width="0.15">104</text>
<line x1="584.73" y1="120.3" x2="584.73" y2="121.6" stroke="#000" stroke-width="0.5"/>
<text x="584.73" y="125.5" font-size="5.5" text-anchor="middle" textLength="8.4" lengthAdjust="spacingAndGlyphs" stroke="#000" stroke-width="0.15">105</text>
<line x1="600.1" y1="120.3" x2="600.1" y2="121.6" stroke="#000" stroke-width="0.5"/>
<text x="600.1" y="125.5" font-size="5.5" text-anchor="middle" textLength="8.4" lengthAdjust="spacingAndGlyphs" stroke="#000" stroke-width="0.15">106</text>
<line x1="615.47" y1="120.3" x2="615.47" y2="121.6" stroke="#000" stroke-width="0.5"/>
<text x="615.47" y="125.5" font-size="5.5" text-anchor="middle" textLength="8.4" lengthAdjust="spacingAndGlyphs" stroke="#000" stroke-width="0.15">107</text>
<line x1="630.84" y1="120.3" x2="630.84" y2="121.6" stroke="#000" stroke-width="0.5"/>
<text x="630.84" y="125.5" font-size="5.5" text-anchor="middle" textLength="8.4" lengthAdjust="spacingAndGlyphs" stroke="#000" stroke-width="0.15">108</text>
<line x1="646.21" y1="120.3" x2="646.21" y2="121.6" stroke="#000" stroke-width="0.5"/>
<text x="646.21" y="125.5" font-size="5.5" text-anchor="middle" textLength="8.4" lengthAdjust="spacingAndGlyphs" stroke="#000" stroke-width="0.15">109</text>
<line x1="661.58" y1="120.3" x2="661.58" y2="121.6" stroke="#000" stroke-width="0.5"/>
<text x="661.58" y="125.5" font-size="5.5" text-anchor="middle" textLength="8.4" lengthAdjust="spacingAndGlyphs" stroke="#000" stroke-width="0.15">110</text>
<line x1="438.8" y1="101.12" x2="440" y2="101.12" stroke="#000" stroke-width="0.5"/>
<text x="438.4" y="102.92" font-size="5.5" text-anchor="end" textLength="10" lengthAdjust="spacingAndGlyphs" stroke="#000" stroke-width="0.15">0.75</text>
<line x1="438.8" y1="81" x2="440" y2="81" stroke="#000" stroke-width="0.5"/>
<text x="438.4" y="82.8" font-size="5.5" text-anchor="end" textLength="10" lengthAdjust="spacingAndGlyphs" stroke="#000" stroke-width="0.15">1.00</text>
<line x1="438.8" y1="60.88" x2="440" y2="60.88" stroke="#000" stroke-width="0.5"/>
<text x="438.4" y="62.67" font-size="5.5" text-anchor="end" textLength="10" lengthAdjust="spacingAndGlyphs" stroke="#000" stroke-width="0.15">1.25</text>
<line x1="438.8" y1="40.75" x2="440" y2="40.75" stroke="#000" stroke-width="0.5"/>
<text x="438.4" y="42.55" font-size="5.5" text-anchor="end" textLength="10" lengthAdjust="spacingAndGlyphs" stroke="#000" stroke-width="0.15">1.50</text>
<line x1="438.8" y1="20.62" x2="440" y2="20.62" stroke="#000" stroke-width="0.5"/>
<text x="438.4" y="22.43" font-size="5.5" text-anchor="end" textLength="10" lengthAdjust="spacingAndGlyphs" stroke="#000" stroke-width="0.15">1.75</text>
<text x="554.5" y="134" font-size="6.4" text-anchor="middle" textLength="45" lengthAdjust="spacingAndGlyphs">Sample number</text>
<text transform="translate(427.2 60) rotate(-90)" font-size="5.2" stroke="#000" stroke-width="0.15" text-anchor="middle" textLength="96" lengthAdjust="spacingAndGlyphs">Heat energy consumption per ton of steel ( GJ/t )</text>
</svg></body></html>
